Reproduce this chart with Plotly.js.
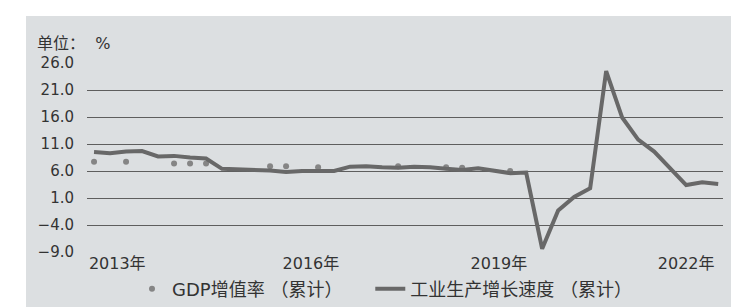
<!DOCTYPE html>
<html>
<head>
<meta charset="utf-8">
<script src="https://cdn.plot.ly/plotly-3.0.1.min.js"></script>
<style>
html,body{margin:0;padding:0;background:#fff;}
#chart{width:747px;height:307px;}
</style>
</head>
<body>
<div id="chart"></div>
<script>
// Quarterly periods, 2013Q1 .. 2022Q4
const quarters = [
  '2013Q1','2013Q2','2013Q3','2013Q4',
  '2014Q1','2014Q2','2014Q3','2014Q4',
  '2015Q1','2015Q2','2015Q3','2015Q4',
  '2016Q1','2016Q2','2016Q3','2016Q4',
  '2017Q1','2017Q2','2017Q3','2017Q4',
  '2018Q1','2018Q2','2018Q3','2018Q4',
  '2019Q1','2019Q2','2019Q3','2019Q4',
  '2020Q1','2020Q2','2020Q3','2020Q4',
  '2021Q1','2021Q2','2021Q3','2021Q4',
  '2022Q1','2022Q2','2022Q3','2022Q4'
];
// 工业生产增长速度（累计）, %
const industry = [
  9.5, 9.3, 9.6, 9.7,
  8.7, 8.8, 8.5, 8.3,
  6.4, 6.3, 6.2, 6.1,
  5.8, 6.0, 6.0, 6.0,
  6.8, 6.9, 6.7, 6.6,
  6.8, 6.7, 6.4, 6.2,
  6.5, 6.0, 5.6, 5.7,
  -8.4, -1.3, 1.2, 2.8,
  24.5, 15.9, 11.8, 9.6,
  6.5, 3.4, 3.9, 3.6
];
// GDP增值率（累计）, % — only the dots visible in the picture
const gdp = [
  7.7, null, 7.7, null,
  null, 7.4, 7.4, 7.4,
  null, null, null, 6.9,
  6.9, null, 6.7, null,
  null, null, null, 6.9,
  null, null, 6.7, 6.6,
  null, null, 6.0, null,
  null, null, null, null,
  null, null, null, null,
  null, null, null, null
];
const yearLabels = ['2013年','2016年','2019年','2022年'];
const yearTickPos = [1.45, 13.55, 25.3, 37.0];
const yTicks = [-9, -4, 1, 6, 11, 16, 21, 26];

const xIdx = quarters.map((q, i) => i);
const FONT = '"DejaVu Sans", "Noto Sans CJK SC", sans-serif';

const traces = [
  {
    x: xIdx, y: gdp, name: 'GDP增值率 （累计）\u00a0\u00a0\u00a0\u00a0',
    type: 'scatter', mode: 'markers',
    marker: {color: '#858585', size: 6},
    cliponaxis: false
  },
  {
    x: xIdx, y: industry, name: '工业生产增长速度 （累计）',
    type: 'scatter', mode: 'lines',
    line: {color: '#686868', width: 4},
    cliponaxis: false
  }
];

const layout = {
  width: 747, height: 307,
  margin: {l: 87, r: 24, t: 63, b: 55, autoexpand: false},
  paper_bgcolor: '#ffffff',
  plot_bgcolor: 'rgba(0,0,0,0)',
  font: {family: FONT, size: 15, color: '#333'},
  showlegend: true,
  legend: {
    orientation: 'h', x: (132 - 87) / 636, xanchor: 'left', y: (252 - 289) / 189, yanchor: 'middle',
    font: {size: 18, color: '#333'}, bgcolor: 'rgba(0,0,0,0)', itemwidth: 30
  },
  xaxis: {
    range: [-0.44, 39.3],
    tickmode: 'array', tickvals: yearTickPos, ticktext: yearLabels,
    showgrid: false, zeroline: false, showline: false, ticks: '',
    ticklabelstandoff: 0,
    tickfont: {size: 16, color: '#333'}, fixedrange: true
  },
  yaxis: {
    range: [-9, 26],
    tickmode: 'array', tickvals: yTicks, tickformat: '.1f',
    showgrid: true, gridcolor: '#5e5e5e', gridwidth: 1,
    zeroline: false, showline: false, ticks: '',
    ticklabelstandoff: 12,
    tickfont: {size: 15, color: '#333'}, fixedrange: true
  },
  shapes: [
    {type: 'rect', xref: 'paper', yref: 'paper', layer: 'below',
     x0: (26 - 87) / 636, x1: (731 - 87) / 636,
     y0: (252 - 307) / 189, y1: (252 - 16) / 189,
     fillcolor: '#dcdfe1', line: {width: 0}}
  ],
  annotations: [
    {text: '单位：\u00a0\u00a0%', xref: 'paper', yref: 'paper',
     x: (35 - 87) / 636, y: (252 - 43) / 189, xanchor: 'left', yanchor: 'middle',
     showarrow: false, font: {size: 16, color: '#333'}}
  ]
};

Plotly.newPlot('chart', traces, layout, {displayModeBar: false, staticPlot: true});
</script>
</body>
</html>
